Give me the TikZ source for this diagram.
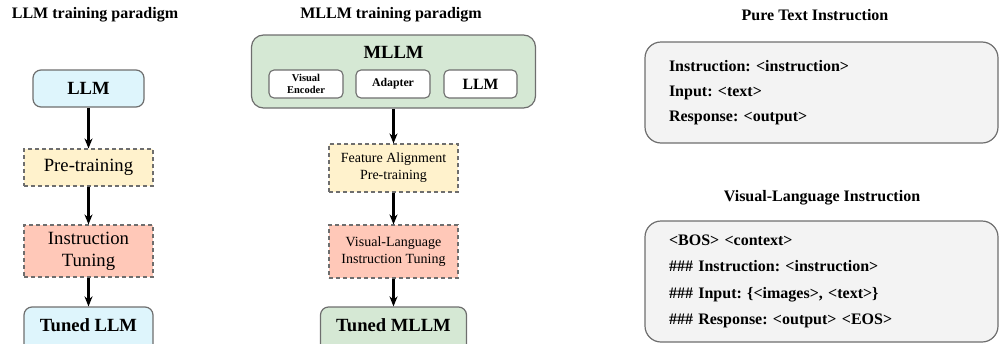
\documentclass[tikz,border=0pt]{standalone}
\usepackage{fontspec}
\setmainfont{Liberation Serif}
\usetikzlibrary{arrows.meta}
\frenchspacing
\definecolor{cyanfill}{HTML}{DEF5FC}
\definecolor{yelfill}{HTML}{FFF2CC}
\definecolor{redfill}{HTML}{FFC8B8}
\definecolor{grnfill}{HTML}{D5E8D4}
\definecolor{grayfill}{HTML}{F3F3F3}
\definecolor{edgegray}{HTML}{6E6E6E}
\tikzset{
  titletext/.style={font=\fontsize{16}{18}\selectfont\bfseries, inner sep=0pt},
  modelbox/.style={draw=edgegray, line width=1.2pt, rounded corners=8pt, align=center, inner sep=0pt, font=\fontsize{18.6}{21}\selectfont\bfseries},
  stagebox/.style={draw=edgegray, line width=1.1pt, dashed, dash pattern=on 4pt off 3pt, align=center, inner sep=0pt, font=\fontsize{18.7}{22}\selectfont},
  stagesmall/.style={stagebox, font=\fontsize{14}{17}\selectfont},
  subbox/.style={draw=edgegray, fill=white, line width=1.1pt, rounded corners=5pt, align=center, inner sep=0pt, minimum width=74pt, minimum height=28pt},
  promptbox/.style={draw=edgegray, fill=grayfill, line width=1.2pt, rounded corners=16pt, align=left, inner xsep=24pt, inner ysep=0pt, font=\fontsize{16}{25}\selectfont\bfseries},
  flow/.style={-{Stealth[length=10pt,width=8pt]}, line width=2.6pt, black}
}
\begin{document}
\begin{tikzpicture}[x=1pt,y=-1pt]
\useasboundingbox (0,0) rectangle (1000,343);
% left column
\node[titletext] (t1) at (95,15) {LLM training paradigm};
\node[modelbox, fill=cyanfill, minimum width=111pt, minimum height=37pt] (llm) at (88.5,88.5) {LLM};
\node[stagebox, fill=yelfill, minimum width=129pt, minimum height=37pt] (pre) at (88.5,167.5) {Pre-training};
\node[stagebox, fill=redfill, minimum width=129pt, minimum height=52pt] (it) at (88.5,251) {Instruction\\Tuning};
\node[modelbox, fill=cyanfill, minimum width=129pt, minimum height=46pt, text depth=10pt] (tllm) at (88.5,330) {Tuned LLM};
\draw[flow] (llm.south) -- (pre.north);
\draw[flow] (pre.south) -- (it.north);
\draw[flow] (it.south) -- (tllm.north);
% middle column
\node[titletext] (t2) at (391,15) {MLLM training paradigm};
\node[modelbox, fill=grnfill, rounded corners=12pt, minimum width=284pt, minimum height=73pt] (mllm) at (393.5,71.5) {};
\node[font=\fontsize{18.6}{21}\selectfont\bfseries, inner sep=0pt] (mllmtext) at (393.5,52) {MLLM};
\node[subbox, font=\fontsize{10.5}{12}\selectfont\bfseries] (ve) at (306,84) {Visual\\Encoder};
\node[subbox, font=\fontsize{11.8}{13}\selectfont\bfseries] (ad) at (393,84) {Adapter};
\node[subbox, minimum width=73pt, font=\fontsize{15.7}{18}\selectfont\bfseries] (sl) at (480.5,84) {LLM};
\node[stagesmall, fill=yelfill, minimum width=129pt, minimum height=48pt] (fa) at (393.5,168) {Feature Alignment\\Pre-training};
\node[stagesmall, fill=redfill, minimum width=129pt, minimum height=53pt] (vl) at (393.5,251.5) {Visual-Language\\Instruction Tuning};
\node[modelbox, fill=grnfill, minimum width=146pt, minimum height=46pt, text depth=10pt] (tm) at (393.5,330) {Tuned MLLM};
\draw[flow] (mllm.south) -- (fa.north);
\draw[flow] (fa.south) -- (vl.north);
\draw[flow] (vl.south) -- (tm.north);
% right column
\node[titletext] (t3) at (815,15) {Pure Text Instruction};
\node[promptbox, text width=305pt, minimum height=101pt] (pt) at (821.5,92.5) {Instruction: <instruction>\\Input: <text>\\Response: <output>};
\node[titletext] (t4) at (822,198) {Visual-Language Instruction};
\node[promptbox, text width=305pt, minimum height=121pt, font=\fontsize{16}{26.3}\selectfont\bfseries] (vp) at (821.5,281.5) {<BOS> <context>\\\#\#\# Instruction: <instruction>\\\#\#\# Input: \{<images>, <text>\}\\\#\#\# Response: <output> <EOS>};
\end{tikzpicture}
\end{document}
